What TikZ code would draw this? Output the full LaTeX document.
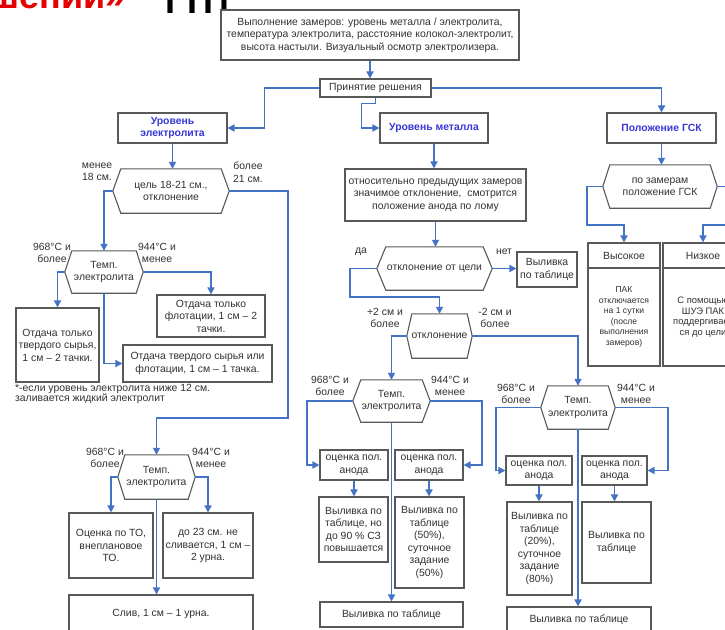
\documentclass[tikz,border=0pt]{standalone}
\usepackage{fontspec}
\setmainfont{Liberation Sans}
\usetikzlibrary{arrows.meta}
\definecolor{lineblue}{RGB}{68,114,196}
\definecolor{boxgray}{RGB}{89,89,89}
\definecolor{txtgray}{RGB}{50,50,50}
\definecolor{headblue}{RGB}{55,55,215}
\definecolor{titlered}{RGB}{230,0,0}
% hexagonal decision outline around a named text node
\newcommand\hexout[2][8]{\draw[draw=boxgray, line width=1.1pt]
  (#2.west) -- ([xshift=#1pt]#2.north west) -- ([xshift=-#1pt]#2.north east)
  -- (#2.east) -- ([xshift=-#1pt]#2.south east) -- ([xshift=#1pt]#2.south west) -- cycle;}
\begin{document}
\begin{tikzpicture}[x=1pt,y=-1pt,
  every node/.style={font=\fontsize{10.4}{12.5}\selectfont, text=txtgray, inner sep=0pt, align=center},
  wh/.style 2 args={minimum width=#1pt, minimum height=#2pt},
  box/.style={draw=boxgray, line width=1.1pt, fill=white},
  head/.style={box, font=\fontsize{10.4}{12.5}\selectfont\bfseries, text=headblue},
  titletext/.style={font=\fontsize{36}{36}\selectfont\bfseries, text depth=0pt},
  conn/.style={draw=lineblue, line width=1.6pt, -{Triangle[length=7pt,width=7pt]}},
]
\useasboundingbox (0,0) rectangle (725,629);
\clip (0,0) rectangle (725,629);
\fill[white] (0,0) rectangle (725,629);

% heading fragments, mostly above the top edge
\node[titletext, anchor=south east, text=titlered] (ttl) at (126,9) {решений»};
\node[titletext, anchor=south west, text=black] (ttl2) at (159,14) {ТТП};

% top level
\node[box, wh={298}{50}] (meas) at (370,35) {Выполнение замеров: уровень металла / электролита,\\температура электролита, расстояние колокол-электролит,\\высота настыли. Визуальный осмотр электролизера.};
\node[box, wh={111}{18}] (dec) at (375.5,88) {Принятие решения};
\node[head, wh={109}{30}] (lvlE) at (172.5,128) {Уровень\\электролита};
\node[head, wh={108}{30}] (lvlM) at (434,128) {Уровень металла};
\node[head, wh={109}{30}] (gsk) at (661.5,128) {Положение ГСК};

% electrolyte level branch
\node[wh={116}{44}] (cel) at (171,191) {цель 18-21 см.,\\отклонение};
\node (lless) at (97,172) {менее\\18 см.};
\node (lmore) at (248,172) {более\\21 см.};
\node[wh={78}{42}] (t1) at (104,272) {Темп.\\электролита};
\node (t1a) at (52,253) {968°C и\\более};
\node (t1b) at (157,253) {944°C и\\менее};
\node[box, wh={83}{74}] (b1) at (57.5,345) {Отдача только\\твердого сырья,\\1 см – 2 тачки.};
\node[box, wh={108}{42}] (b2) at (211,316) {Отдача только\\флотации, 1 см – 2\\тачки.};
\node[box, wh={149}{37}] (b3) at (197.5,363.5) {Отдача твердого сырья или\\флотации, 1 см – 1 тачка.};
\node[anchor=north west, align=left, font=\fontsize{10.4}{10.5}\selectfont] (note) at (15,384) {*-если уровень электролита ниже 12 см.\\заливается жидкий электролит};
\node[wh={77}{44}] (t2) at (156.5,477) {Темп.\\электролита};
\node (t2a) at (105,458) {968°C и\\более};
\node (t2b) at (211,458) {944°C и\\менее};
\node[box, wh={84}{65}] (b4) at (111,545.5) {Оценка по ТО,\\внеплановое\\ТО.};
\node[box, wh={90}{65}] (b5) at (208,545.5) {до 23 см. не\\сливается, 1 см –\\2 урна.};
\node[box, wh={184}{37}] (b6) at (161,613.5) {Слив, 1 см – 1 урна.};

% metal level branch
\node[box, wh={181}{52}] (rel) at (435.5,195) {относительно предыдущих замеров\\значимое отклонение,\ \ смотрится\\положение анода по лому};
\node[wh={115}{43}] (dev) at (434.5,268.5) {отклонение от цели};
\node (lyes) at (361,252) {да};
\node (lno) at (504,252) {нет};
\node[box, wh={60}{35}] (vt) at (547,269.5) {Выливка\\по таблице};
\node[wh={65}{44}] (dev2) at (439.5,336) {отклонение};
\node (lplus) at (385,318) {+2 см и\\более};
\node (lminus) at (495,318) {-2 см и\\более};
\node[wh={77}{42}] (t3) at (391.5,401) {Темп.\\электролита};
\node (t3a) at (330,386) {968°C и\\более};
\node (t3b) at (450,386) {944°C и\\менее};
\node[box, wh={68}{30}] (a1) at (354,465) {оценка пол.\\анода};
\node[box, wh={68}{30}] (a2) at (429,465) {оценка пол.\\анода};
\node[box, wh={69}{65}] (r1) at (353.5,529.5) {Выливка по\\таблице, но\\до 90 \% СЗ\\повышается};
\node[box, wh={69}{91}] (r2) at (429.5,542.5) {Выливка по\\таблице\\(50\%),\\суточное\\задание\\(50\%)};
\node[box, wh={143}{25}] (r3) at (391.5,614.5) {Выливка по таблице};
\node[wh={74}{43}] (t4) at (578,407.5) {Темп.\\электролита};
\node (t4a) at (516,394) {968°C и\\более};
\node (t4b) at (636,394) {944°C и\\менее};
\node[box, wh={66}{29}] (a3) at (539,470.5) {оценка пол.\\анода};
\node[box, wh={65}{29}] (a4) at (614.5,470.5) {оценка пол.\\анода};
\node[box, wh={65}{93}] (r4) at (539.5,548.5) {Выливка по\\таблице\\(20\%),\\суточное\\задание\\(80\%)};
\node[box, wh={69}{81}] (r5) at (616.5,542.5) {Выливка по\\таблице};
\node[box, wh={144}{26}] (r6) at (579,620) {Выливка по таблице};

% GSK position branch
\node[wh={114}{43}] (gh) at (660,186.5) {по замерам\\положение ГСК};
\node[box, wh={72}{25}] (hi) at (624,255.5) {Высокое};
\node[box, font=\fontsize{8.6}{10.5}\selectfont, wh={72}{98}] (hib) at (624,317) {ПАК\\отключается\\на 1 сутки\\(после\\выполнения\\замеров)};
\node[box, wh={80}{25}] (lo) at (703,255.5) {Низкое};
\node[box, font=\fontsize{9.4}{10.5}\selectfont, wh={80}{98}] (lob) at (703,317) {С помощью\\ШУЭ ПАК\\поддергивает\\ся до цели};

% decision outlines
\hexout{cel}
\hexout[7]{t1}
\hexout[7]{t2}
\hexout[9]{dev}
\hexout[5]{dev2}
\hexout[8]{t3}
\hexout[7]{t4}
\hexout[7]{gh}

% connectors
\draw[conn] (meas.south) -- (meas.south |- dec.north);
\draw[conn] (dec.west) -- ++(-55,0) |- (lvlE.east);
\draw[conn] (dec.south) -- ++(0,6) -- ++(-14,0) |- (lvlM.west);
\draw[conn] (dec.east) -| (gsk.north);

\draw[conn] (lvlE.south) -- (lvlE.south |- cel.north);
\draw[conn] (cel.west) -| (t1.north);
\draw[conn] (t1.west) -| (b1.north);
\draw[conn] (t1.east) -| (b2.north);
\draw[conn] (t1.south) |- (b3.west);
\draw[conn] (cel.east) -- ++(59,0) -- ++(0,227) -| (t2.north);
\draw[conn] (t2.west) -| (b4.north);
\draw[conn] (t2.east) -| (b5.north);
\draw[conn] (t2.south) -- (t2.south |- b6.north);

\draw[conn] (lvlM.south) -- (lvlM.south |- rel.north);
\draw[conn] (rel.south) -- (rel.south |- dev.north);
\draw[conn] (dev.east) -- (dev.east -| vt.west);
\draw[conn] (dev.west) -- ++(-27,0) -- ++(0,28.5) -| (dev2.north);
\draw[conn] (dev2.west) -| (t3.north);
\draw[conn] (dev2.east) -| (t4.north);
\draw[conn] (t3.west) -- ++(-46,0) |- (a1.west);
\draw[conn] (t3.east) -- ++(52,0) |- (a2.east);
\draw[conn] (a1.south) -- (a1.south |- r1.north);
\draw[conn] (a2.south) -- (a2.south |- r2.north);
\draw[conn] (t3.south) -- (t3.south |- r3.north);
\draw[conn] (t4.west) -- ++(-45,0) |- (a3.west);
\draw[conn] (t4.east) -- ++(53,0) |- (a4.east);
\draw[conn] (a3.south) -- (a3.south |- r4.north);
\draw[conn] (a4.south) -- (a4.south |- r5.north);
\draw[conn] (t4.south) -- (t4.south |- r6.north);

\draw[conn] (gsk.south) -- (gsk.south |- gh.north);
\draw[conn] (gh.west) -- ++(-16,0) -- ++(0,38.5) -| (hi.north);
\draw[conn] (gh.east) -- ++(20,0) -- ++(0,38.5) -| (lo.north);
\end{tikzpicture}
\end{document}
